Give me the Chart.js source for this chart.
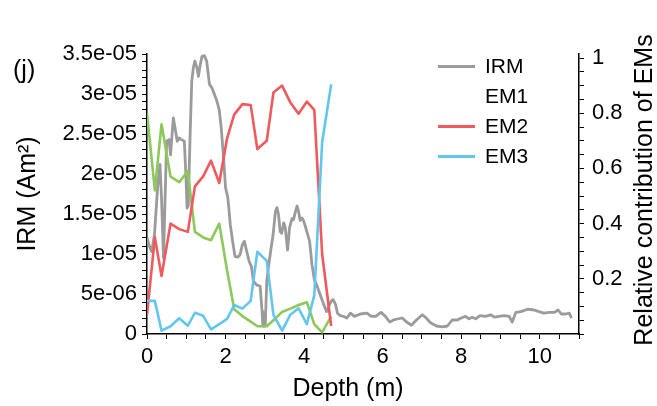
<!DOCTYPE html>
<html><head><meta charset="utf-8">
<script src="https://cdn.jsdelivr.net/npm/chart.js@4"></script>
<style>
html,body{margin:0;padding:0;background:#fff;}
#wrap{position:relative;width:657px;height:406px;}
#legend{position:absolute;left:438px;top:51px;font-family:"Liberation Sans",Arial,Helvetica,sans-serif;font-size:21px;color:#000;}
.row{display:flex;align-items:center;height:30px;}
.sw{width:37px;height:3px;margin-right:10px;}
</style></head>
<body><div id="wrap"><canvas id="c" width="657" height="406"></canvas><div id="legend"></div></div>
<script>
// ---- data ----
const panelLabel = '(j)';
const xTitle = 'Depth (m)';
const yTitle = 'IRM (Am\u00B2)';
const y1Title = 'Relative contribution of EMs';

const irmDepth = [0.00,0.06,0.12,0.19,0.27,0.33,0.37,0.42,0.50,0.56,0.60,0.67,0.70,0.77,0.82,0.88,0.95,0.99,1.02,1.05,1.10,1.14,1.18,1.22,1.27,1.31,1.35,1.40,1.46,1.52,1.59,1.65,1.72,1.78,1.84,1.89,1.95,2.00,2.06,2.12,2.18,2.24,2.31,2.37,2.43,2.48,2.54,2.60,2.66,2.71,2.80,2.88,2.93,2.95,3.01,3.05,3.09,3.16,3.21,3.27,3.31,3.35,3.39,3.43,3.48,3.52,3.58,3.63,3.69,3.73,3.78,3.82,3.86,3.90,3.95,3.99,4.03,4.07,4.14,4.20,4.26,4.33,4.41,4.50,4.57,4.63,4.69,4.74,4.80,4.85,4.92,5.01,5.09,5.18,5.28,5.43,5.60,5.71,5.82,5.96,6.07,6.18,6.30,6.50,6.61,6.73,6.86,7.01,7.09,7.22,7.37,7.52,7.65,7.77,7.90,8.00,8.11,8.20,8.28,8.37,8.48,8.62,8.75,8.85,8.96,9.09,9.22,9.30,9.39,9.52,9.69,9.86,9.98,10.11,10.24,10.37,10.47,10.55,10.66,10.75,10.81];
const irmValue = [1.20e-5,1.10e-5,1.03e-5,1.24e-5,1.83e-5,2.12e-5,1.70e-5,0.95e-5,2.41e-5,2.43e-5,2.24e-5,2.70e-5,2.62e-5,2.41e-5,2.45e-5,2.43e-5,2.41e-5,1.99e-5,1.575e-5,1.60e-5,2.53e-5,3.16e-5,3.33e-5,3.41e-5,3.33e-5,3.22e-5,3.35e-5,3.47e-5,3.48e-5,3.41e-5,3.12e-5,3.08e-5,2.99e-5,2.91e-5,2.80e-5,2.58e-5,2.20e-5,1.83e-5,1.70e-5,1.37e-5,1.16e-5,0.97e-5,0.96e-5,0.99e-5,1.12e-5,1.16e-5,1.03e-5,0.91e-5,0.84e-5,0.66e-5,0.61e-5,0.60e-5,0.28e-5,0.10e-5,0.10e-5,0.66e-5,0.83e-5,1.075e-5,1.24e-5,1.53e-5,1.58e-5,1.49e-5,1.28e-5,1.26e-5,1.39e-5,1.33e-5,1.05e-5,1.33e-5,1.44e-5,1.43e-5,1.53e-5,1.60e-5,1.53e-5,1.42e-5,1.45e-5,1.41e-5,1.35e-5,1.28e-5,1.16e-5,0.87e-5,0.68e-5,0.60e-5,0.49e-5,0.37e-5,0.28e-5,0.35e-5,0.41e-5,0.43e-5,0.37e-5,0.26e-5,0.23e-5,0.22e-5,0.20e-5,0.26e-5,0.22e-5,0.25e-5,0.26e-5,0.22e-5,0.22e-5,0.27e-5,0.22e-5,0.15e-5,0.18e-5,0.20e-5,0.15e-5,0.11e-5,0.175e-5,0.24e-5,0.21e-5,0.14e-5,0.10e-5,0.09e-5,0.10e-5,0.175e-5,0.175e-5,0.20e-5,0.22e-5,0.19e-5,0.21e-5,0.19e-5,0.23e-5,0.22e-5,0.24e-5,0.21e-5,0.22e-5,0.23e-5,0.22e-5,0.15e-5,0.27e-5,0.28e-5,0.31e-5,0.30e-5,0.28e-5,0.26e-5,0.27e-5,0.27e-5,0.30e-5,0.25e-5,0.25e-5,0.26e-5,0.20e-5];

const emDepth = [0,0.2,0.37,0.6,0.82,1.04,1.22,1.43,1.63,1.84,2.04,2.22,2.43,2.64,2.81,3.05,3.22,3.44,3.65,3.86,4.07,4.26,4.46,4.69];
const em1 = [0.80,0.52,0.76,0.57,0.55,0.59,0.37,0.35,0.34,0.40,0.23,0.09,0.065,0.045,0.028,0.028,0.05,0.08,0.092,0.105,0.115,0.036,0.006,0.064];
const em2 = [0.07,0.35,0.21,0.40,0.38,0.37,0.535,0.571,0.628,0.547,0.71,0.795,0.833,0.83,0.67,0.70,0.875,0.90,0.839,0.798,0.842,0.812,0.289,0.029];
const em3 = [0.12,0.12,0.012,0.028,0.057,0.03,0.077,0.066,0.017,0.036,0.055,0.105,0.092,0.12,0.298,0.265,0.069,0.012,0.07,0.093,0.036,0.141,0.695,0.905];

const seriesNames = ['IRM','EM1','EM2','EM3'];
const seriesColors = ['#9b9b9b','#8dc85b','#ee5a5e','#63c6ef'];
const legendSwatch = ['#9b9b9b','#ffffff','#ee5a5e','#63c6ef'];

const xTickLabels = ['0','2','4','6','8','10'];
const yTickLabels = ['0','5e-06','1e-05','1.5e-05','2e-05','2.5e-05','3e-05','3.5e-05'];
const y1TickLabels = ['0.2','0.4','0.6','0.8','1'];

// ---- chart ----
const FONT = '"Liberation Sans", Arial, Helvetica, sans-serif';
Chart.defaults.font.family = FONT;
Chart.defaults.color = '#000';

const pts = (xs, ys) => xs.map((x, i) => ({x: x, y: ys[i]}));

const annot = {
  id: 'annot',
  afterDraw(chart) {
    const ctx = chart.ctx;
    ctx.save();
    ctx.fillStyle = '#000';
    ctx.font = '25px ' + FONT;
    ctx.textBaseline = 'alphabetic';
    ctx.textAlign = 'left';
    ctx.fillText(panelLabel, 13, 78);
    ctx.textAlign = 'center';
    ctx.fillText(xTitle, 348, 396);
    ctx.translate(652, 190);
    ctx.rotate(-Math.PI / 2);
    ctx.fillText(y1Title, 0, 0);
    ctx.restore();
  }
};

const tickGrid = {drawOnChartArea: false, drawTicks: true, tickLength: 5, tickColor: '#000', tickWidth: 1};
const tickFont = {size: 22};

new Chart(document.getElementById('c'), {
  type: 'line',
  data: {
    datasets: [
      {label: seriesNames[0], data: pts(irmDepth, irmValue), yAxisID: 'y', borderColor: seriesColors[0], borderWidth: 2.8, order: 10},
      {label: seriesNames[1], data: pts(emDepth, em1), yAxisID: 'y1', borderColor: seriesColors[1], borderWidth: 2.6, order: 3},
      {label: seriesNames[2], data: pts(emDepth, em2), yAxisID: 'y1', borderColor: seriesColors[2], borderWidth: 2.6, order: 2},
      {label: seriesNames[3], data: pts(emDepth, em3), yAxisID: 'y1', borderColor: seriesColors[3], borderWidth: 2.6, order: 1}
    ]
  },
  options: {
    responsive: false,
    animation: false,
    events: [],
    elements: {point: {radius: 0}, line: {tension: 0, fill: false, borderJoinStyle: 'round', borderCapStyle: 'butt'}},
    layout: {padding: {top: 54, left: 0, right: 0, bottom: 0}},
    plugins: {legend: {display: false}, tooltip: {enabled: false}},
    scales: {
      x: {
        type: 'linear', min: 0, max: 11,
        grid: tickGrid,
        border: {display: true, color: '#000', width: 1.5},
        afterBuildTicks(s) { const t = []; for (let i = 0; i <= 22; i++) t.push({value: i / 2}); s.ticks = t; },
        afterFit(s) { s.height = 72; },
        ticks: {autoSkip: false, maxRotation: 0, padding: 5, font: tickFont,
          callback(v) { const i = Math.round(v * 2); return i % 4 === 0 ? xTickLabels[i / 4] : ''; }}
      },
      y: {
        type: 'linear', position: 'left', min: 0, max: 3.5e-5,
        grid: tickGrid,
        border: {display: true, color: '#000', width: 1.5},
        afterBuildTicks(s) { const t = []; for (let i = 0; i <= 35; i++) t.push({value: i * 1e-6}); s.ticks = t; },
        afterFit(s) { s.width = 147; },
        title: {display: true, text: yTitle, font: {size: 25}, padding: {top: 13, bottom: 0}},
        ticks: {autoSkip: false, padding: 5, font: tickFont,
          callback(v) { const i = Math.round(v / 1e-6); return i % 5 === 0 ? yTickLabels[i / 5] : ''; }}
      },
      y1: {
        type: 'linear', position: 'right', min: 0, max: 1.0145,
        grid: tickGrid,
        border: {display: true, color: '#000', width: 1.5},
        afterBuildTicks(s) { const t = []; for (let i = 0; i <= 20; i++) t.push({value: i * 0.05}); s.ticks = t; },
        afterFit(s) { s.width = 78; },
        ticks: {autoSkip: false, padding: 8, font: tickFont,
          callback(v) { const i = Math.round(v / 0.05); return (i % 4 === 0 && i > 0) ? y1TickLabels[i / 4 - 1] : ''; }}
      }
    }
  },
  plugins: [annot]
});

// legend (HTML, built from dataset names and colours)
const lg = document.getElementById('legend');
seriesNames.forEach((n, i) => {
  const r = document.createElement('div'); r.className = 'row';
  const s = document.createElement('div'); s.className = 'sw'; s.style.background = legendSwatch[i];
  const t = document.createElement('span'); t.textContent = n;
  r.appendChild(s); r.appendChild(t); lg.appendChild(r);
});
</script>
</body></html>
